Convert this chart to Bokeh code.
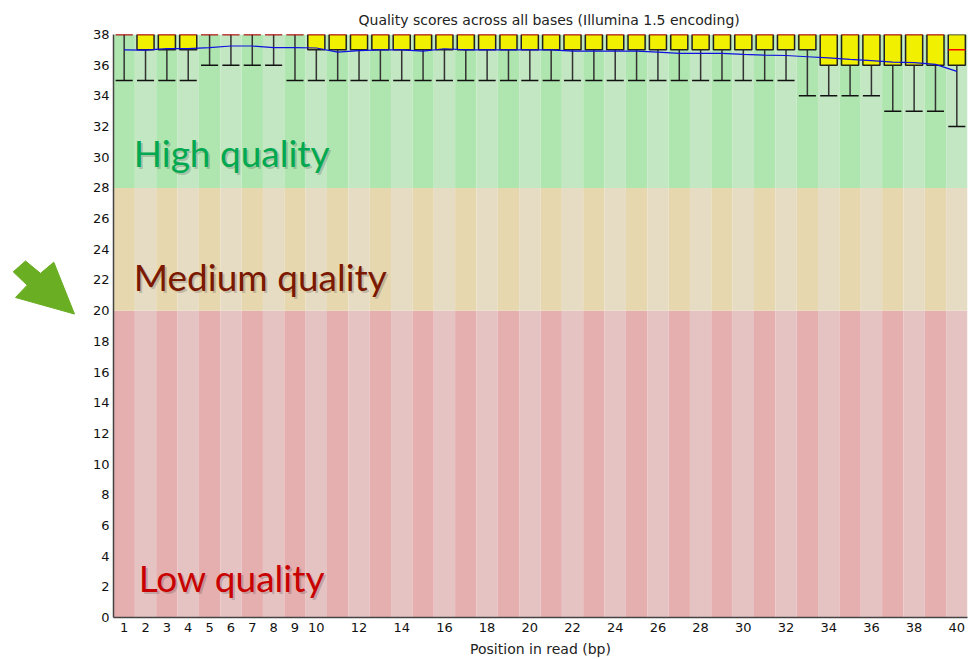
import numpy as np
from bokeh.plotting import figure
from bokeh.models import Range1d, FixedTicker
from bokeh.layouts import row
from bokeh.embed import file_html
from bokeh.resources import INLINE
from bokeh.core.properties import value

# ---------------- data ----------------
title_text = "Quality scores across all bases (Illumina 1.5 encoding)"
x_label = "Position in read (bp)"

positions = [1, 2, 3, 4, 5, 6, 7, 8, 9, 10,
             11, 12, 13, 14, 15, 16, 17, 18, 19, 20,
             21, 22, 23, 24, 25, 26, 27, 28, 29, 30,
             31, 32, 33, 34, 35, 36, 37, 38, 39, 40]

mean_q = [37.0, 36.98, 37.08, 37.08, 37.15, 37.25, 37.25, 37.15, 37.15, 37.12,
          36.85, 36.95, 37.0, 37.0, 36.92, 37.07, 37.0, 37.0, 37.0, 37.0,
          37.0, 36.92, 36.92, 36.92, 36.92, 36.85, 36.77, 36.77, 36.77, 36.7,
          36.65, 36.63, 36.55, 36.47, 36.38, 36.3, 36.2, 36.17, 36.05, 35.6]

median_q = [38, 38, 38, 38, 38, 38, 38, 38, 38, 38,
            38, 38, 38, 38, 38, 38, 38, 38, 38, 38,
            38, 38, 38, 38, 38, 38, 38, 38, 38, 38,
            38, 38, 38, 38, 38, 38, 38, 38, 38, 37]

lower_quartile = [38, 37, 37, 37, 38, 38, 38, 38, 38, 37,
                  37, 37, 37, 37, 37, 37, 37, 37, 37, 37,
                  37, 37, 37, 37, 37, 37, 37, 37, 37, 37,
                  37, 37, 37, 36, 36, 36, 36, 36, 36, 36]

upper_quartile = [38, 38, 38, 38, 38, 38, 38, 38, 38, 38,
                  38, 38, 38, 38, 38, 38, 38, 38, 38, 38,
                  38, 38, 38, 38, 38, 38, 38, 38, 38, 38,
                  38, 38, 38, 38, 38, 38, 38, 38, 38, 38]

lower_whisker = [35, 35, 35, 35, 36, 36, 36, 36, 35, 35,
                 35, 35, 35, 35, 35, 35, 35, 35, 35, 35,
                 35, 35, 35, 35, 35, 35, 35, 35, 35, 35,
                 35, 35, 34, 34, 34, 34, 33, 33, 33, 32]

x_tick_values = [1, 2, 3, 4, 5, 6, 7, 8, 9, 10, 12, 14, 16, 18, 20,
                 22, 24, 26, 28, 30, 32, 34, 36, 38, 40]
y_tick_values = [0, 2, 4, 6, 8, 10, 12, 14, 16, 18, 20,
                 22, 24, 26, 28, 30, 32, 34, 36, 38]

zone_names = ["Low quality", "Medium quality", "High quality"]
zone_bottom = [0, 20, 28]
zone_top = [20, 28, 38]
zone_light = ["#E6C3C3", "#E6DCC3", "#C3E6C3"]
zone_dark = ["#E6AFAF", "#E6D7AF", "#AFE6AF"]
zone_text_color = ["#C80000", "#7A1800", "#00A850"]
zone_text_y = [2.6, 22.25, 30.28]
zone_text_x = [1.68, 1.45, 1.45]

# arrow decoration (pixel coordinates of the left panel)
arrow_x = [12.7, 25.0, 40.0, 53.3, 74.0, 15.0, 26.7]
arrow_y = [268.3, 256.0, 270.0, 257.3, 316.0, 297.3, 283.3]

# ---------------- layout ----------------
H = 659
LEFT_W = 88
MAIN_W = 881
FONT = "DejaVu Sans"

# left panel with the arrow
pl = figure(width=LEFT_W, height=H, x_range=Range1d(0, LEFT_W),
            y_range=Range1d(H, 0), x_axis_type=None, y_axis_type=None,
            toolbar_location=None, output_backend="svg",
            min_border=0, min_border_left=0, min_border_right=0,
            min_border_top=0, min_border_bottom=0)
pl.outline_line_color = None
pl.grid.visible = False
pl.patch(arrow_x, arrow_y, fill_color="#6AAE23", line_color="#6AAE23")

# main chart
p = figure(width=MAIN_W, height=H, x_range=Range1d(0.5, 40.5),
           y_range=Range1d(0, 38), toolbar_location=None,
           output_backend="svg", min_border_left=25, min_border_right=2,
           min_border_top=34, min_border_bottom=10)
p.outline_line_color = None
p.grid.visible = False
p.background_fill_color = "white"

p.title.text = title_text
p.title.text_font = FONT
p.title.text_font_size = "14px"
p.title.text_font_style = "normal"
p.title.text_color = "#222222"
p.title.align = "left"
p.title.offset = 245
p.title.standoff = 14

# background stripes
pos = np.array(positions, dtype=float)
bl, br, bb, bt, bc = [], [], [], [], []
for zi in range(len(zone_names)):
    for x in positions:
        bl.append(x - 0.5)
        br.append(x + 0.5)
        bb.append(zone_bottom[zi])
        bt.append(zone_top[zi])
        bc.append(zone_dark[zi] if x % 2 == 1 else zone_light[zi])
p.quad(left=bl, right=br, bottom=bb, top=bt, fill_color=bc, line_color=None)

# zone labels (with soft shadow)
p.text(x=zone_text_x, y=zone_text_y, text=zone_names, text_color="#000000",
       text_alpha=0.18, x_offset=2, y_offset=2, text_font=value("Lato"),
       text_font_size="37px", text_baseline="alphabetic", text_align="left")
p.text(x=zone_text_x, y=zone_text_y, text=zone_names,
       text_color=zone_text_color, text_font=value("Lato"),
       text_font_size="37px", text_baseline="alphabetic", text_align="left")

# whiskers
lq = np.array(lower_quartile, dtype=float)
lw = np.array(lower_whisker, dtype=float)
p.segment(x0=pos, y0=lw, x1=pos, y1=lq, line_color="#333333", line_width=1.5)
p.segment(x0=pos - 0.4, y0=lw, x1=pos + 0.4, y1=lw, line_color="#111111",
          line_width=1.5)

# boxes
p.vbar(x=pos, width=0.8, bottom=lower_quartile, top=upper_quartile,
       fill_color="#F0F000", line_color="#222222", line_width=1.5)

# medians
p.segment(x0=pos - 0.4, y0=median_q, x1=pos + 0.4, y1=median_q,
          line_color="#FF0000", line_width=1.5)

# mean line
p.line(x=positions, y=mean_q, line_color="#1010E0", line_width=1.2)

# axes
for ax in (p.xaxis[0], p.yaxis[0]):
    ax.axis_line_color = "#444444"
    ax.axis_line_width = 1.5
    ax.major_tick_in = 0
    ax.major_tick_out = 0
    ax.minor_tick_in = 0
    ax.minor_tick_out = 0
    ax.major_label_text_font = FONT
    ax.major_label_text_font_size = "13px"
    ax.major_label_text_color = "#111111"

p.xaxis[0].ticker = FixedTicker(ticks=x_tick_values)
p.yaxis[0].ticker = FixedTicker(ticks=y_tick_values)
p.xaxis[0].major_label_standoff = 5
p.yaxis[0].major_label_standoff = 4
p.xaxis[0].axis_label = x_label
p.xaxis[0].axis_label_text_font = FONT
p.xaxis[0].axis_label_text_font_size = "14px"
p.xaxis[0].axis_label_text_font_style = "normal"
p.xaxis[0].axis_label_text_color = "#222222"
p.xaxis[0].axis_label_standoff = 6

layout = row(pl, p)
open("out.html", "w").write(file_html(layout, INLINE))
